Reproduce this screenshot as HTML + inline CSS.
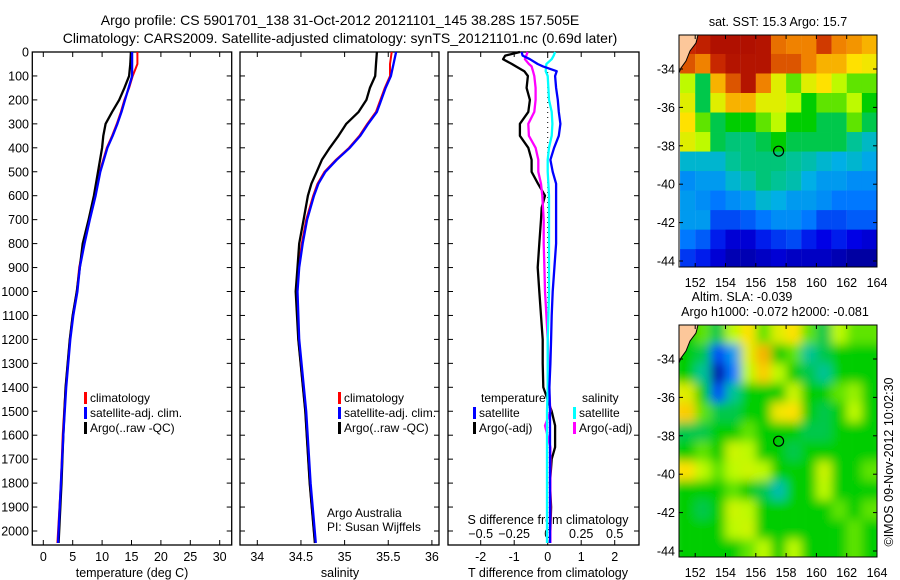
<!DOCTYPE html>
<html><head><meta charset="utf-8"><style>
body{margin:0;background:#fff}
svg{display:block;font-family:"Liberation Sans",sans-serif}
</style></head><body>
<svg id="c" width="900" height="580" xmlns="http://www.w3.org/2000/svg"></svg>
<script>
// ---- data ----
const depthsT = [0,50,100,150,200,250,300,350,400,500,600,700,800,900,1000,1100,1200,1400,1600,1800,2050];
const tempClim = [16.0,16.0,15.2,14.6,13.8,13.2,12.5,11.7,10.8,9.6,8.8,7.8,6.9,6.1,5.7,5.0,4.5,3.8,3.3,3.0,2.4];
const tempSat  = [15.1,15.1,15.1,14.5,13.9,13.3,12.6,11.8,10.9,9.7,8.9,7.9,7.0,6.2,5.8,5.1,4.6,3.9,3.4,3.0,2.5];
const tempArgo = [14.9,14.8,14.6,13.8,12.9,11.7,10.6,10.2,10.0,9.3,8.6,7.7,6.7,6.2,5.7,5.0,4.5,3.8,3.4,3.1,2.6];
const depthsS = [0,50,100,150,200,250,300,350,400,450,500,550,600,700,800,900,1000,1200,1500,1800,2050];
const salClim = [35.54,35.52,35.52,35.46,35.41,35.36,35.26,35.17,35.05,34.90,34.77,34.69,34.64,34.56,34.51,34.47,34.45,34.47,34.55,34.60,34.66];
const salSat  = [35.59,35.56,35.53,35.47,35.42,35.37,35.27,35.18,35.06,34.91,34.78,34.70,34.65,34.57,34.52,34.48,34.46,34.48,34.56,34.61,34.67];
const salArgo = [35.37,35.36,35.35,35.29,35.25,35.16,35.02,34.93,34.83,34.74,34.68,34.62,34.58,34.53,34.48,34.46,34.44,34.47,34.55,34.60,34.66];
const depthsD = [0,15,30,50,60,80,100,150,200,250,300,350,400,450,500,550,600,650,700,800,900,1000,1100,1200,1300,1400,1500,1560,1650,1700,1800,1900,2050];
const dTArgo = [-0.83,-1.27,-1.33,-1.07,-0.95,-0.7,-0.59,-0.63,-0.53,-0.58,-0.83,-0.83,-0.58,-0.48,-0.48,-0.29,-0.08,-0.18,-0.2,-0.25,-0.3,-0.25,-0.2,-0.15,-0.15,-0.13,0.12,0.22,0.22,0.12,0.07,0.1,0.07];
const dTSat  = [-0.78,-0.75,-0.53,-0.3,-0.14,0.27,0.22,0.25,0.3,0.33,0.38,0.33,0.19,0.08,0.15,0.25,0.25,0.25,0.25,0.25,0.2,0.15,0.12,0.1,0.08,0.05,0.07,0.07,0.07,0.07,0.07,0.07,0.07];
const dSArgo = [-0.15,-0.16,-0.17,-0.14,-0.12,-0.11,-0.10,-0.09,-0.09,-0.10,-0.145,-0.14,-0.09,-0.07,-0.07,-0.05,-0.04,-0.035,-0.03,-0.03,-0.025,-0.02,-0.01,0.0,0.005,0.01,0.02,-0.02,0.02,0.02,0.02,0.02,0.02];
const dSSat  = [0.055,0.045,0.03,-0.01,-0.012,-0.015,0.0,0.005,0.01,0.03,0.035,0.03,0.01,0.0,0.0,0.005,0.01,0.01,0.01,0.01,0.01,0.01,0.005,0.0,0.0,0.0,-0.005,-0.005,-0.005,-0.005,-0.005,-0.005,-0.005];
const depthTicks = [0,100,200,300,400,500,600,700,800,900,1000,1100,1200,1300,1400,1500,1600,1700,1800,1900,2000];
const tempTicks = [0,5,10,15,20,25,30];
const salTicks = [34,34.5,35,35.5,36];
const tDiffTicks = [-2,-1,0,1,2];
const sDiffTicks = [-0.5,-0.25,0,0.25,0.5];
const lonTicks = [152,154,156,158,160,162,164];
const latTicks = [-34,-36,-38,-40,-42,-44];
const sstGrid = [
[0.9,0.92,0.96,0.96,0.96,0.95,0.82,0.8,0.8,0.88,0.8,0.78,0.75],
[0.85,0.8,0.9,0.95,0.95,0.95,0.85,0.85,0.8,0.75,0.75,0.7,0.68],
[0.6,0.45,0.75,0.85,0.95,0.8,0.65,0.55,0.65,0.7,0.6,0.55,0.55],
[0.65,0.45,0.65,0.75,0.75,0.65,0.65,0.6,0.5,0.55,0.55,0.6,0.5],
[0.7,0.55,0.45,0.5,0.5,0.55,0.6,0.5,0.5,0.45,0.45,0.55,0.45],
[0.65,0.6,0.45,0.42,0.42,0.45,0.5,0.45,0.45,0.45,0.45,0.4,0.36],
[0.35,0.35,0.35,0.4,0.42,0.42,0.42,0.4,0.38,0.35,0.33,0.35,0.32],
[0.28,0.3,0.3,0.35,0.38,0.42,0.4,0.38,0.33,0.3,0.3,0.28,0.28],
[0.3,0.28,0.25,0.28,0.3,0.35,0.33,0.3,0.3,0.28,0.25,0.25,0.25],
[0.3,0.3,0.2,0.2,0.22,0.25,0.28,0.28,0.25,0.2,0.2,0.22,0.22],
[0.25,0.22,0.15,0.1,0.1,0.15,0.18,0.2,0.15,0.12,0.15,0.12,0.1],
[0.18,0.15,0.1,0.06,0.06,0.08,0.1,0.08,0.08,0.08,0.06,0.04,0.04]];
const slaGrid = [
[0.5,0.55,0.45,0.6,0.7,0.55,0.65,0.7,0.55,0.45,0.6,0.55,0.55],
[0.5,0.45,0.2,0.3,0.65,0.75,0.5,0.55,0.4,0.45,0.5,0.5,0.5],
[0.5,0.4,0.05,0.25,0.6,0.72,0.6,0.5,0.45,0.4,0.5,0.5,0.5],
[0.65,0.5,0.2,0.4,0.5,0.5,0.5,0.62,0.5,0.5,0.55,0.58,0.5],
[0.72,0.55,0.45,0.45,0.5,0.5,0.68,0.7,0.5,0.45,0.5,0.6,0.5],
[0.45,0.45,0.5,0.5,0.55,0.5,0.5,0.5,0.45,0.45,0.5,0.5,0.5],
[0.5,0.55,0.5,0.62,0.6,0.5,0.5,0.45,0.5,0.5,0.5,0.5,0.5],
[0.7,0.6,0.55,0.6,0.62,0.6,0.5,0.5,0.5,0.62,0.5,0.5,0.55],
[0.5,0.5,0.5,0.55,0.5,0.45,0.38,0.5,0.5,0.6,0.5,0.5,0.5],
[0.5,0.45,0.5,0.62,0.6,0.5,0.5,0.5,0.5,0.5,0.55,0.5,0.55],
[0.5,0.5,0.5,0.6,0.62,0.5,0.5,0.5,0.5,0.5,0.5,0.55,0.5],
[0.5,0.5,0.5,0.5,0.55,0.6,0.5,0.6,0.5,0.5,0.5,0.55,0.5]];
const argoLon = 157.505, argoLat = -38.28;

// ---- helpers ----
const NS="http://www.w3.org/2000/svg";
const svg=document.getElementById('c');
function el(tag,attrs,parent,text){const e=document.createElementNS(NS,tag);for(const k in attrs)e.setAttribute(k,attrs[k]);if(text!==undefined)e.textContent=text;(parent||svg).appendChild(e);return e;}
const yD=d=>52+d*0.2395;
const xT=t=>43.3+t*5.88;
const xS=s=>257.3+(s-34)*87.3;
const xDT=t=>547.7+t*33.5;
const xDS=s=>547.7+s*134;
function txt(x,y,s,anchor,size,name,extra){const t=el('text',Object.assign({x:x,y:y,'font-size':size||12,'text-anchor':anchor||'start',fill:'#000'},extra||{}),svg,s);return t;}
function line(xs,ys,color,w,name){let d='';for(let i=0;i<xs.length;i++){d+=(i?'L':'M')+xs[i].toFixed(1)+' '+ys[i].toFixed(1);}const p=el('path',{d:d,fill:'none',stroke:color,'stroke-width':w,'stroke-linejoin':'round'});return p;}

// titles
txt(340,25,'Argo profile: CS 5901701_138 31-Oct-2012 20121101_145 38.28S 157.505E','middle',14,'title-line-1');
txt(340,43,'Climatology: CARS2009. Satellite-adjusted climatology: synTS_20121101.nc (0.69d later)','middle',14,'title-line-2');

// panel frames
const panels=[[32.3,231.7,'temperature-panel'],[240,439,'salinity-panel'],[448,639,'difference-panel']];
panels.forEach(p=>{const r=el('rect',{x:p[0],y:52,width:p[1]-p[0],height:493,fill:'none',stroke:'#000','stroke-width':1.3});
 depthTicks.forEach(d=>{el('line',{x1:p[0],x2:p[0]+5,y1:yD(d),y2:yD(d),stroke:'#000'});el('line',{x1:p[1]-5,x2:p[1],y1:yD(d),y2:yD(d),stroke:'#000'});});});
depthTicks.forEach(d=>txt(29,yD(d)+4.5,String(d),'end',12.5,'depth-tick-label'));

// x ticks
function xticks(ticks,fx,p,labelY,name,fmt){ticks.forEach(v=>{const x=fx(v);el('line',{x1:x,x2:x,y1:52,y2:57,stroke:'#000'});el('line',{x1:x,x2:x,y1:540,y2:545,stroke:'#000'});txt(x,labelY,fmt?fmt(v):String(v),'middle',12.5,name);});}
xticks(tempTicks,xT,0,561,'temperature-tick-label');
xticks(salTicks,xS,0,561,'salinity-tick-label');
xticks(tDiffTicks,xDT,0,561,'t-diff-tick-label');
sDiffTicks.forEach(v=>{const x=xDS(v);txt(x,538,v===0?'0':String(v).replace('-','\u2212'),'middle',12.5,'s-diff-tick-label');});
txt(132,577,'temperature (deg C)','middle',12.5,'temperature-axis-title');
txt(340,577,'salinity','middle',12.5,'salinity-axis-title');
txt(548,577,'T difference from climatology','middle',12.5,'t-diff-axis-title');
txt(548,524,'S difference from climatology','middle',12.5,'s-diff-axis-title');

// zero dotted line
el('line',{x1:xDT(0),x2:xDT(0),y1:52,y2:545,stroke:'#000','stroke-dasharray':'1,4'});

// profiles
const yT=depthsT.map(yD), yS=depthsS.map(yD), yDD=depthsD.map(yD);
line(tempClim.map(xT),yT,'#f00',2,'temp-climatology-line');
line(tempArgo.map(xT),yT,'#000',2.3,'temp-argo-line');
line(tempSat.map(xT),yT,'#00f',2.3,'temp-satellite-line');
line(salClim.map(xS),yS,'#f00',2,'sal-climatology-line');
line(salArgo.map(xS),yS,'#000',2.3,'sal-argo-line');
line(salSat.map(xS),yS,'#00f',2.3,'sal-satellite-line');
line(dTArgo.map(xDT),yDD,'#000',2.3,'t-diff-argo-line');
line(dSArgo.map(xDS),yDD,'#f0f',2.3,'s-diff-argo-line');
line(dSSat.map(xDS),yDD,'#0ff',2.3,'s-diff-satellite-line');
line(dTSat.map(xDT),yDD,'#00f',2.3,'t-diff-satellite-line');

// legends
function leg(x,y,color,label){const b=el('rect',{x:x,y:y-10,width:3,height:12,fill:color});txt(x+6,y,label,'start',12,'legend-entry');}
leg(84,402,'#f00','climatology');leg(84,417,'#00f','satellite-adj. clim.');leg(84,432,'#000','Argo(..raw -QC)');
leg(338,402,'#f00','climatology');leg(338,417,'#00f','satellite-adj. clim.');leg(338,432,'#000','Argo(..raw -QC)');
txt(481,402,'temperature','start',12,'legend-temperature-header');
txt(582,402,'salinity','start',12,'legend-salinity-header');
leg(473,417,'#00f','satellite');leg(473,432,'#000','Argo(-adj)');
leg(573,417,'#0ff','satellite');leg(573,432,'#f0f','Argo(-adj)');
txt(327,517,'Argo Australia','start',12,'credit-argo-australia');
txt(327,531,'PI: Susan Wijffels','start',12,'credit-pi');

// maps
function cmap(v){const st=[[0,0,0,128],[0.12,0,0,230],[0.25,0,120,255],[0.33,0,175,230],[0.4,0,195,150],[0.5,0,205,0],[0.6,190,250,0],[0.7,255,225,0],[0.8,240,130,0],[0.9,200,40,0],[1,160,0,0]];v=Math.max(0,Math.min(1,v));for(let i=1;i<st.length;i++){if(v<=st[i][0]){const a=st[i-1],b=st[i],f=(v-a[0])/(b[0]-a[0]);return `rgb(${Math.round(a[1]+f*(b[1]-a[1]))},${Math.round(a[2]+f*(b[2]-a[2]))},${Math.round(a[3]+f*(b[3]-a[3]))})`;}}}
const defs=el('defs',{});
const f=el('filter',{id:'blur',x:'-10%',y:'-10%',width:'120%',height:'120%'},defs);el('feGaussianBlur',{stdDeviation:5},f);
function drawMap(y0,grid,smooth,name,clipId){
 const lx=lon=>877+(lon-164)*15.15, ly=lat=>y0+34+(lat+34)*(-19.2);
 const cp=el('clipPath',{id:clipId},defs);el('rect',{x:679,y:y0,width:198,height:232},cp);
 const g=el('g',{'clip-path':`url(#${clipId})`});
 const inner=el('g',smooth?{filter:'url(#blur)'}:{},g);
 const rows=grid.length, cols=grid[0].length, latTop=-32.2, dl=12.2/rows;
 for(let j=0;j<rows;j++)for(let i=0;i<cols;i++){
  const x=lx(151+i),y=ly(latTop-j*dl);const pad=smooth?8:0;
  el('rect',{x:x-(i==0?pad:0),y:y-(j==0?pad:0),width:15.3+(i==0||i==cols-1?pad:0),height:dl*19.2+0.4+(j==0||j==rows-1?pad:0),fill:cmap(grid[j][i])},inner);}
 const land=el('path',{d:`M679 ${y0} L698 ${y0} L696 ${y0+8} L690 ${y0+16} L686 ${y0+26} L681 ${y0+33} L679 ${y0+38} Z`,fill:'#fcc79a'},g);
 el('path',{d:`M698 ${y0} L696 ${y0+8} L690 ${y0+16} L686 ${y0+26} L681 ${y0+33} L679 ${y0+38}`,fill:'none',stroke:'#000','stroke-width':1},g);
 el('rect',{x:679,y:y0,width:198,height:232,fill:'none',stroke:'#000','stroke-width':1});
 lonTicks.forEach(v=>{const x=lx(v);el('line',{x1:x,x2:x,y1:y0,y2:y0+4,stroke:'#000'});el('line',{x1:x,x2:x,y1:y0+228,y2:y0+232,stroke:'#000'});txt(x,y0+252,String(v),'middle',12.5,'lon-tick-label');});
 latTicks.forEach(v=>{const y=ly(v);el('line',{x1:679,x2:683,y1:y,y2:y,stroke:'#000'});el('line',{x1:873,x2:877,y1:y,y2:y,stroke:'#000'});txt(675,y+4.5,String(v),'end',12.5,'lat-tick-label');});
 const c=el('circle',{cx:lx(argoLon),cy:ly(argoLat),r:5,fill:'none',stroke:'#000','stroke-width':1.2});
}
drawMap(35,sstGrid,false,'sst-map','clipA');
drawMap(325,slaGrid,true,'sla-map','clipB');
txt(778,26,'sat. SST: 15.3 Argo: 15.7','middle',12.5,'sst-map-title');
txt(742,301,'Altim. SLA: -0.039','middle',12.5,'sla-map-title');
txt(775,316,'Argo h1000: -0.072 h2000: -0.081','middle',12.5,'argo-height-title');
txt(0,0,'\u00a9IMOS 09-Nov-2012 10:02:30','middle',12.5,'imos-timestamp',{transform:'translate(893,462) rotate(-90)'});
</script>
</body></html>
